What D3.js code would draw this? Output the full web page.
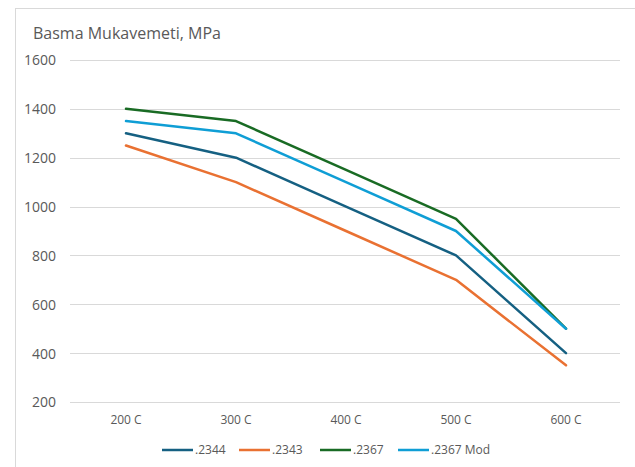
<!DOCTYPE html>
<html><head><meta charset="utf-8">
<script src="https://cdn.jsdelivr.net/npm/d3@7"></script>
<style>html,body{margin:0;padding:0;background:#fff;}svg{display:block;}</style>
</head><body>
<svg id="c" width="635" height="467"></svg>
<script>
const categories = ["200 C", "300 C", "400 C", "500 C", "600 C"];
const seriesNames = [".2344", ".2343", ".2367", ".2367 Mod"];
const s2344 = [1300, 1200, 1000, 800, 400];
const s2343 = [1250, 1100, 900, 700, 350];
const s2367 = [1400, 1350, 1150, 950, 500];
const s2367Mod = [1350, 1300, 1100, 900, 500];
const yTicks = [200, 400, 600, 800, 1000, 1200, 1400, 1600];
const colors = ["#156082", "#E97132", "#196B24", "#0F9ED5"];
const title = "Basma Mukavemeti, MPa";

const series = [s2344, s2343, s2367, s2367Mod].map((v, i) => ({name: seriesNames[i], values: v, color: colors[i]}));

const svg = d3.select("#c");
const font = "'Open Sans', sans-serif";

// chart border (top and left visible)
svg.append("line").attr("x1", 15.5).attr("x2", 15.5).attr("y1", 8).attr("y2", 467).attr("stroke", "#d9d9d9").attr("stroke-width", 1);
svg.append("line").attr("x1", 15).attr("x2", 635).attr("y1", 8.5).attr("y2", 8.5).attr("stroke", "#d9d9d9").attr("stroke-width", 1);

const x = d3.scaleBand().domain(categories).range([71, 621]);
const y = d3.scaleLinear().domain([200, 1600]).range([402, 60]);

// gridlines
svg.append("g").selectAll("line").data(yTicks).join("line")
  .attr("x1", 70).attr("x2", 620)
  .attr("y1", d => Math.round(y(d)) + 0.5).attr("y2", d => Math.round(y(d)) + 0.5)
  .attr("stroke", "#d9d9d9").attr("stroke-width", 1);

// y axis labels
const yAxis = d3.axisLeft(y).tickValues(yTicks).tickSize(0).tickPadding(0).tickFormat(d3.format("d"));
const gy = svg.append("g").attr("transform", "translate(56,0)").call(yAxis);
gy.select(".domain").remove();
gy.selectAll("text").attr("font-family", font).attr("font-size", 14).attr("fill", "#595959").attr("dy", "0.35em");

// x axis labels
const xAxis = d3.axisBottom(x).tickSize(0).tickPadding(0);
const gx = svg.append("g").attr("transform", "translate(0,415)").call(xAxis);
gx.select(".domain").remove();
gx.selectAll("text").attr("font-family", font).attr("font-size", 12).attr("fill", "#595959").attr("dy", "0.71em");

// lines
const line = d3.line().x((d, i) => x(categories[i]) + x.bandwidth() / 2).y(d => y(d));
svg.append("g").selectAll("path").data(series).join("path")
  .attr("d", d => line(d.values))
  .attr("fill", "none").attr("stroke", d => d.color).attr("stroke-width", 2.5)
  .attr("stroke-linejoin", "round").attr("stroke-linecap", "round");

// title
svg.append("text").attr("x", 33).attr("y", 39).text(title)
  .attr("font-family", font).attr("font-size", 16).attr("fill", "#595959");

// legend
const legendX = [162, 239, 320, 398];
const lg = svg.append("g").selectAll("g").data(series).join("g")
  .attr("transform", (d, i) => `translate(${legendX[i]},450)`);
lg.append("line").attr("x1", 0).attr("x2", 31).attr("y1", 0).attr("y2", 0)
  .attr("stroke", d => d.color).attr("stroke-width", 2.5);
lg.append("text").attr("x", 33).attr("y", 0).attr("dy", "0.35em").text(d => d.name)
  .attr("font-family", font).attr("font-size", 12).attr("fill", "#595959");
</script>
</body></html>
